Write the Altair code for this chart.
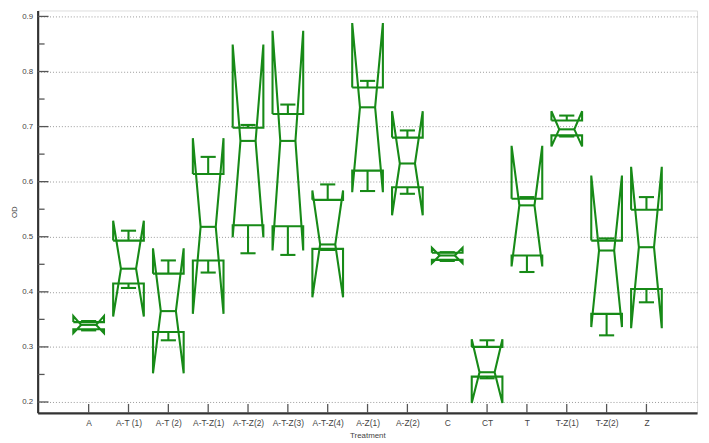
import json
import altair as alt
import pandas as pd

categories = ["A", "A-T (1)", "A-T (2)", "A-T-Z(1)", "A-T-Z(2)", "A-T-Z(3)", "A-T-Z(4)",
              "A-Z(1)", "A-Z(2)", "C", "CT", "T", "T-Z(1)", "T-Z(2)", "Z"]
notch_high   = [0.356, 0.529, 0.479, 0.679, 0.849, 0.874, 0.584, 0.888, 0.728, 0.480, 0.314, 0.665, 0.728, 0.611, 0.627]
whisker_high = [0.347, 0.511, 0.457, 0.645, 0.703, 0.740, 0.595, 0.783, 0.693, 0.472, 0.312, 0.572, 0.720, 0.497, 0.572]
q3           = [0.345, 0.493, 0.433, 0.614, 0.698, 0.723, 0.567, 0.771, 0.680, 0.471, 0.300, 0.569, 0.711, 0.493, 0.549]
median       = [0.340, 0.442, 0.365, 0.518, 0.674, 0.674, 0.486, 0.735, 0.633, 0.466, 0.254, 0.557, 0.695, 0.475, 0.481]
q1           = [0.332, 0.415, 0.327, 0.457, 0.521, 0.519, 0.478, 0.620, 0.590, 0.458, 0.246, 0.466, 0.684, 0.360, 0.405]
whisker_low  = [0.330, 0.407, 0.312, 0.435, 0.470, 0.467, 0.476, 0.583, 0.578, 0.456, 0.243, 0.436, 0.682, 0.321, 0.381]
notch_low    = [0.325, 0.355, 0.252, 0.360, 0.499, 0.475, 0.390, 0.581, 0.539, 0.452, 0.198, 0.446, 0.664, 0.336, 0.334]

major_ticks = [0.2, 0.3, 0.4, 0.5, 0.6, 0.7, 0.8, 0.9]
minor_ticks = [0.25, 0.35, 0.45, 0.55, 0.65, 0.75, 0.85]

# style constants (in category-step units)
BOX_HALF = 0.385
NOTCH_HALF = 0.19
CAP_HALF = 0.19
GREEN = "#178a17"
FONT = "Liberation Sans"
W, H = 667, 407

outline_rows = []
seg_rows = []
for i, c in enumerate(categories):
    pts = [(-BOX_HALF, q3[i]), (-BOX_HALF, notch_high[i]), (-NOTCH_HALF, median[i]),
           (-BOX_HALF, notch_low[i]), (-BOX_HALF, q1[i]), (BOX_HALF, q1[i]),
           (BOX_HALF, notch_low[i]), (NOTCH_HALF, median[i]), (BOX_HALF, notch_high[i]),
           (BOX_HALF, q3[i]), (-BOX_HALF, q3[i])]
    for k, (dx, yv) in enumerate(pts):
        outline_rows.append(dict(cat=c, k=k, x=i + dx, y=yv))
    seg_rows += [
        dict(cat=c, x=i - NOTCH_HALF, x2=i + NOTCH_HALF, y=median[i], y2=median[i]),
        dict(cat=c, x=i, x2=i, y=q3[i], y2=whisker_high[i]),
        dict(cat=c, x=i, x2=i, y=q1[i], y2=whisker_low[i]),
        dict(cat=c, x=i - CAP_HALF, x2=i + CAP_HALF, y=whisker_high[i], y2=whisker_high[i]),
        dict(cat=c, x=i - CAP_HALF, x2=i + CAP_HALF, y=whisker_low[i], y2=whisker_low[i]),
    ]

outline = pd.DataFrame(outline_rows)
segs = pd.DataFrame(seg_rows)
xt = pd.DataFrame({"x": list(range(len(categories)))})
ymaj = pd.DataFrame({"y": major_ticks})
ymin = pd.DataFrame({"y": minor_ticks})

xscale = alt.Scale(domain=[-1.28, 15.27], nice=False, zero=False)
yscale = alt.Scale(domain=[0.1803, 0.9108], nice=False, zero=False)

label_expr = json.dumps(categories) + "[datum.value]"
xaxis = alt.Axis(values=list(range(len(categories))), labelExpr=label_expr, ticks=False,
                 grid=False, domainColor="#333333", domainWidth=2.2, labelFontSize=8.5,
                 labelColor="#444444", labelPadding=6, labelFont=FONT, title="Treatment",
                 titleFont=FONT, titleFontSize=8, titleFontWeight="normal",
                 titleColor="#444444", titlePadding=4, labelAngle=0)
yaxis = alt.Axis(values=major_ticks, format=".1f", ticks=False, grid=True, gridDash=[1, 2],
                 gridColor="#9a9a9a", gridWidth=1, domainColor="#333333", domainWidth=2.2,
                 labelFontSize=8, labelColor="#444444", labelPadding=5, labelFont=FONT,
                 title="OD", titleFont=FONT, titleFontSize=8, titleFontWeight="normal",
                 titleColor="#444444", titlePadding=3)


def X(f):
    return alt.X(f"{f}:Q", scale=xscale, axis=xaxis, title="Treatment")


def Y(f):
    return alt.Y(f"{f}:Q", scale=yscale, axis=yaxis, title="OD")


boxes = alt.Chart(outline).mark_line(color=GREEN, strokeWidth=2.1, strokeJoin="miter").encode(
    x=X("x"), y=Y("y"), order="k:Q", detail="cat:N")

lines = alt.Chart(segs).mark_rule(color=GREEN, strokeWidth=2.1).encode(
    x=X("x"), x2="x2:Q", y=Y("y"), y2="y2:Q")

ymaj_ticks = alt.Chart(ymaj).mark_rule(color="#555555", strokeWidth=1.3).encode(
    y=Y("y"), x=alt.value(0), x2=alt.value(11))
ymin_ticks = alt.Chart(ymin).mark_rule(color="#555555", strokeWidth=1.3).encode(
    y=Y("y"), x=alt.value(0), x2=alt.value(7))
x_ticks = alt.Chart(xt).mark_rule(color="#555555", strokeWidth=1.3).encode(
    x=X("x"), y=alt.value(H), y2=alt.value(H - 9))

chart = alt.layer(ymaj_ticks, ymin_ticks, x_ticks, boxes, lines).properties(
    width=W, height=H,
    autosize=alt.AutoSizeParams(type="none"),
    padding={"left": 30, "top": 0, "right": 4, "bottom": 28},
).configure_view(stroke=None).configure(background="white")

chart.save("out.html", embed_options={"renderer": "svg", "actions": False})
